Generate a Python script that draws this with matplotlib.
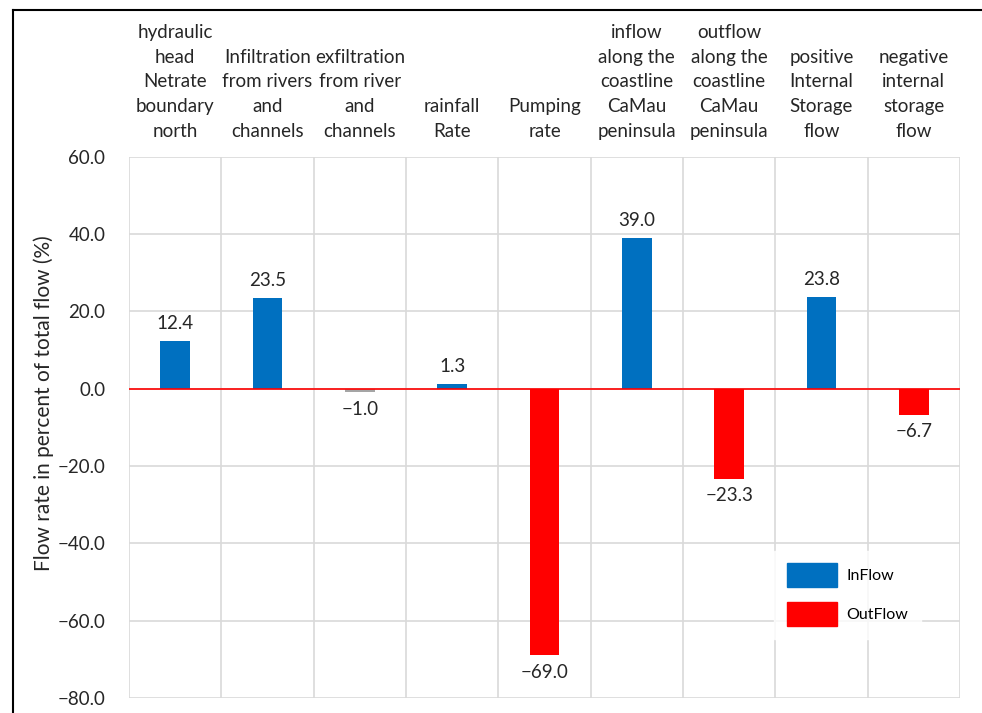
import matplotlib
matplotlib.use("Agg")
import matplotlib.pyplot as plt
from matplotlib.patches import Patch
from matplotlib.lines import Line2D
from matplotlib.ticker import FuncFormatter, MultipleLocator

categories = [
    "hydraulic\nhead\nNetrate\nboundary\nnorth",
    "Infiltration\nfrom rivers\nand\nchannels",
    "exfiltration\nfrom river\nand\nchannels",
    "rainfall\nRate",
    "Pumping\nrate",
    "inflow\nalong the\ncoastline\nCaMau\npeninsula",
    "outflow\nalong the\ncoastline\nCaMau\npeninsula",
    "positive\nInternal\nStorage\nflow",
    "negative\ninternal\nstorage\nflow",
]
values = [12.4, 23.5, -1.0, 1.3, -69.0, 39.0, -23.3, 23.8, -6.7]
series = ["in", "in", "other", "in", "out", "in", "out", "in", "out"]

BLUE = "#0070C0"
RED = "#FF0000"
GREY = "#A5A5A5"
TEXT = "#262626"
colour_of = {"in": BLUE, "out": RED, "other": GREY}

plt.rcParams["font.family"] = ["Lato", "DejaVu Sans"]
plt.rcParams["axes.unicode_minus"] = True

fig = plt.figure(figsize=(9.82, 7.13), dpi=100)
ax = fig.add_axes([0.1314, 0.021, 0.8462, 0.7595])

x = list(range(len(values)))
ax.bar(x, values, width=0.32, color=[colour_of[s] for s in series], zorder=3)

def fmt(v):
    return f"{v:.1f}".replace("-", "\u2212")

for xi, v in zip(x, values):
    if v >= 0:
        ax.annotate(fmt(v), (xi, v), xytext=(0, 6), textcoords="offset points",
                    ha="center", va="bottom", fontsize=13.5, color=TEXT)
    else:
        ax.annotate(fmt(v), (xi, v), xytext=(0, -6), textcoords="offset points",
                    ha="center", va="top", fontsize=13.5, color=TEXT)

ax.axhline(0, color=RED, lw=1.2, zorder=4)

ax.set_xlim(-0.5, len(values) - 0.5)
ax.set_ylim(-80, 60)
ax.yaxis.set_major_locator(MultipleLocator(20))
ax.yaxis.set_major_formatter(FuncFormatter(lambda v, p: fmt(v)))

# category boundaries as vertical grid
for b in range(len(values) + 1):
    ax.axvline(b - 0.5, color="#D9D9D9", lw=1.2, zorder=1)
ax.yaxis.grid(True, color="#D9D9D9", lw=1.2, zorder=1)
ax.set_axisbelow(True)

ax.xaxis.tick_top()
ax.set_xticks(x)
ax.set_xticklabels(categories, fontsize=13.5, color=TEXT, linespacing=1.55)
ax.tick_params(axis="x", length=0, pad=12)
ax.tick_params(axis="y", length=0, pad=17, labelsize=13.5, labelcolor=TEXT)

for s in ax.spines.values():
    s.set_visible(False)

ax.set_ylabel("Flow rate in percent of total flow (%)", fontsize=15, color=TEXT)
ax.yaxis.set_label_coords(-0.09, 0.545)

handles = [Patch(facecolor=BLUE, edgecolor=BLUE), Patch(facecolor=RED, edgecolor=RED)]
leg = ax.legend(handles, ["InFlow", "OutFlow"], loc="upper left",
                bbox_to_anchor=(0.767, 0.287), fontsize=11.5, frameon=True,
                fancybox=False, handlelength=3.1, handleheight=1.9,
                handletextpad=0.6, labelspacing=0.95, borderpad=0.8)
leg.get_frame().set_facecolor("white")
leg.get_frame().set_edgecolor("white")
leg.set_zorder(5)

# outer frame lines (top and left)
fig.add_artist(Line2D([13 / 982, 1.0], [1 - 10 / 713, 1 - 10 / 713],
                      color="black", lw=1.5, transform=fig.transFigure))
fig.add_artist(Line2D([13 / 982, 13 / 982], [0.0, 1 - 10 / 713],
                      color="black", lw=1.5, transform=fig.transFigure))

fig.savefig("out.png", dpi=100, facecolor="white")
